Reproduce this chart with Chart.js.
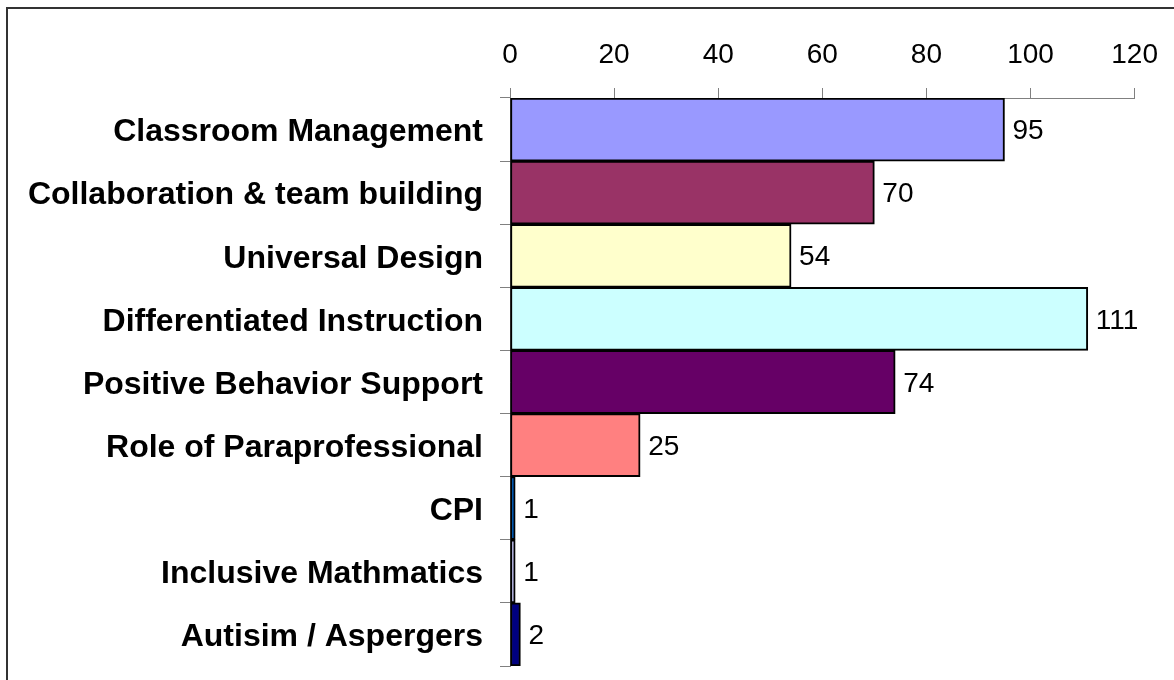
<!DOCTYPE html>
<html>
<head>
<meta charset="utf-8">
<script src="https://cdn.jsdelivr.net/npm/chart.js@4/dist/chart.umd.min.js"></script>
<style>
  html, body { margin: 0; padding: 0; background: #ffffff; }
  canvas { display: block; }
</style>
</head>
<body>
<canvas id="chart" width="1174" height="680"></canvas>
<script>
// Training topics and the number of requests for each
const categories = [
  'Classroom Management',
  'Collaboration & team building',
  'Universal Design',
  'Differentiated Instruction',
  'Positive Behavior Support',
  'Role of Paraprofessional',
  'CPI',
  'Inclusive Mathmatics',
  'Autisim / Aspergers'
];
const requests = [95, 70, 54, 111, 74, 25, 1, 1, 2];
const barColors = [
  '#9999FF', '#993366', '#FFFFCC', '#CCFFFF', '#660066',
  '#FF8080', '#0066CC', '#CCCCFF', '#000080'
];
const axisMin = 0;
const axisMax = 120;
const axisStep = 20;

const FONT = '"Liberation Sans", Arial, sans-serif';

// Outline around the chart panel
const framePlugin = {
  id: 'frame',
  beforeDraw(chart) {
    const ctx = chart.ctx;
    ctx.save();
    ctx.strokeStyle = '#333333';
    ctx.lineWidth = 2;
    ctx.beginPath();
    ctx.moveTo(7, chart.height);
    ctx.lineTo(7, 8);
    ctx.lineTo(chart.width, 8);
    ctx.stroke();
    ctx.restore();
  }
};

// Value printed just past the end of each bar
const valueLabels = {
  id: 'valueLabels',
  afterDatasetsDraw(chart) {
    const ctx = chart.ctx;
    const meta = chart.getDatasetMeta(0);
    const data = chart.data.datasets[0].data;
    ctx.save();
    ctx.font = '28px ' + FONT;
    ctx.fillStyle = '#000000';
    ctx.textAlign = 'left';
    ctx.textBaseline = 'middle';
    meta.data.forEach((bar, i) => {
      ctx.fillText(String(data[i]), bar.x + 8, bar.y + 2);
    });
    ctx.restore();
  }
};

new Chart(document.getElementById('chart'), {
  type: 'bar',
  data: {
    labels: categories,
    datasets: [{
      data: requests,
      backgroundColor: barColors,
      borderColor: '#000000',
      borderWidth: 2,
      borderSkipped: false,
      barPercentage: 1,
      categoryPercentage: 1
    }]
  },
  options: {
    indexAxis: 'y',
    responsive: false,
    animation: false,
    layout: { padding: { top: 0, left: 0, right: 38, bottom: 14 } },
    plugins: {
      legend: { display: false },
      tooltip: { enabled: false }
    },
    scales: {
      x: {
        position: 'top',
        min: axisMin,
        max: axisMax,
        ticks: {
          stepSize: axisStep,
          color: '#000000',
          padding: 16,
          font: { family: FONT, size: 28 }
        },
        grid: {
          drawOnChartArea: false,
          drawTicks: true,
          tickLength: 10,
          color: '#808080',
          lineWidth: 1
        },
        border: { color: '#808080', width: 1 },
        afterFit(scale) { scale.height = 98; }
      },
      y: {
        ticks: {
          color: '#000000',
          padding: 17,
          labelOffset: 3,
          font: { family: FONT, size: 32, weight: 'bold' }
        },
        grid: {
          drawOnChartArea: false,
          drawTicks: true,
          tickLength: 10,
          color: '#808080',
          lineWidth: 1,
          offset: true
        },
        border: { color: '#808080', width: 1 },
        afterFit(scale) {
          scale.width = 510;
          scale.paddingTop = 0;
          scale.paddingBottom = 0;
        }
      }
    }
  },
  plugins: [framePlugin, valueLabels]
});
</script>
</body>
</html>
